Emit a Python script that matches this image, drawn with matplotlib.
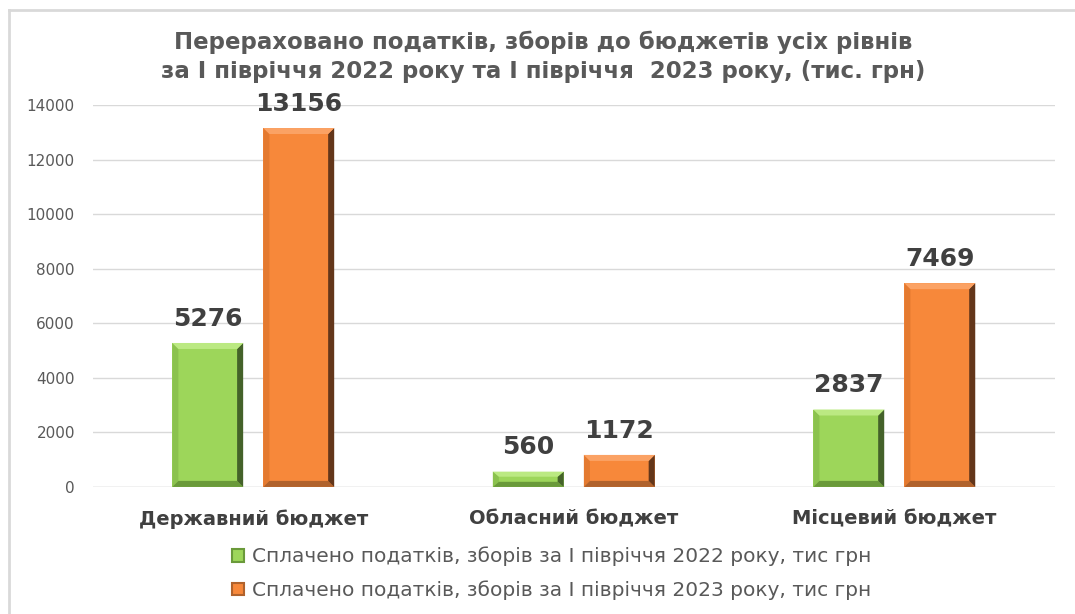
import numpy as np
import matplotlib.pyplot as plt
from matplotlib.patches import Polygon
from matplotlib.lines import Line2D

plt.rcParams['font.family'] = ['DejaVu Sans']

categories = ['Державний бюджет', 'Обласний бюджет', 'Місцевий бюджет']
values_2022 = [5276, 560, 2837]
values_2023 = [13156, 1172, 7469]
series_names = ['Сплачено податків, зборів за І півріччя 2022 року, тис грн',
                'Сплачено податків, зборів за І півріччя 2023 року, тис грн']
yticks = [0, 2000, 4000, 6000, 8000, 10000, 12000, 14000]

# main, top, right, bottom, left shades for the bevel look
green = ['#9DD65A', '#BBE982', '#44622A', '#6A9A3A', '#8BC24E']
orange = ['#F7883A', '#FBA264', '#63361A', '#B0622C', '#E47A30']

fig = plt.figure(figsize=(10.75, 6.14), dpi=100)
ax = fig.add_axes([0.0865, 0.207, 0.8945, 0.622])

x = np.arange(len(categories))
w = 0.221
off = 0.142

b1 = ax.bar(x - off, values_2022, w, color=green[0], label=series_names[0], zorder=3)
b2 = ax.bar(x + off, values_2023, w, color=orange[0], label=series_names[1], zorder=3)

ax.set_xlim(-0.5, 2.5)
ax.set_ylim(0, 14000)

# bevel edges, sized in pixels then converted to data units
dx = 3.0 / 955 * 6
dy = 14000 / 382 * 6


def bevel(bars, shades):
    for b in bars:
        x0, x1 = b.get_x(), b.get_x() + b.get_width()
        y1 = b.get_height()
        ey = min(dy, y1 / 3)
        top = [(x0, y1), (x1, y1), (x1 - dx, y1 - ey), (x0 + dx, y1 - ey)]
        right = [(x1, y1), (x1, 0), (x1 - dx, ey), (x1 - dx, y1 - ey)]
        bottom = [(x0, 0), (x1, 0), (x1 - dx, ey), (x0 + dx, ey)]
        left = [(x0, 0), (x0, y1), (x0 + dx, y1 - ey), (x0 + dx, ey)]
        for pts, c in ((left, shades[4]), (bottom, shades[3]), (right, shades[2]), (top, shades[1])):
            ax.add_patch(Polygon(pts, closed=True, color=c, lw=0, zorder=4))


bevel(b1, green)
bevel(b2, orange)

for bars in (b1, b2):
    for b in bars:
        ax.text(b.get_x() + b.get_width() / 2, b.get_height() + 450, f'{int(b.get_height())}',
                ha='center', va='bottom', fontsize=18, fontweight='bold', color='#404040')

ax.set_yticks(yticks)
ax.set_yticklabels([str(t) for t in yticks], fontsize=11, color='#595959')
ax.set_xticks(x)
ax.set_xticklabels(categories, fontsize=14, fontweight='bold', color='#404040')
ax.tick_params(axis='y', length=0, pad=13)
ax.tick_params(axis='x', length=0, pad=16)
ax.grid(axis='y', color='#D9D9D9', linewidth=1, zorder=0)
for s in ax.spines.values():
    s.set_visible(False)
ax.axhline(0, color='#D9D9D9', linewidth=1, zorder=2)

fig.text(0.5056, 0.931, 'Перераховано податків, зборів до бюджетів усіх рівнів',
         ha='center', va='center', fontsize=16.5, fontweight='bold', color='#595959')
fig.text(0.5056, 0.883, 'за І півріччя 2022 року та І півріччя  2023 року, (тис. грн)',
         ha='center', va='center', fontsize=16.5, fontweight='bold', color='#595959')

leg = fig.legend(handles=[b1, b2], loc='center', bbox_to_anchor=(0.513, 0.066), ncol=1,
                 frameon=False, fontsize=14.5, handlelength=0.6, handleheight=0.6,
                 handletextpad=0.4, labelspacing=0.7, labelcolor='#595959')
for h, c in zip(leg.legend_handles, (green[3], orange[3])):
    h.set_edgecolor(c)
    h.set_linewidth(1.5)

# chart border: only top and left edges show in the picture
bx = 9 / 1075
by = 1 - 9.5 / 614
fig.lines.append(Line2D([bx, 1], [by, by], transform=fig.transFigure, color='#D9D9D9', lw=2))
fig.lines.append(Line2D([bx, bx], [0, by], transform=fig.transFigure, color='#D9D9D9', lw=2))

fig.savefig('out.png', dpi=100)
